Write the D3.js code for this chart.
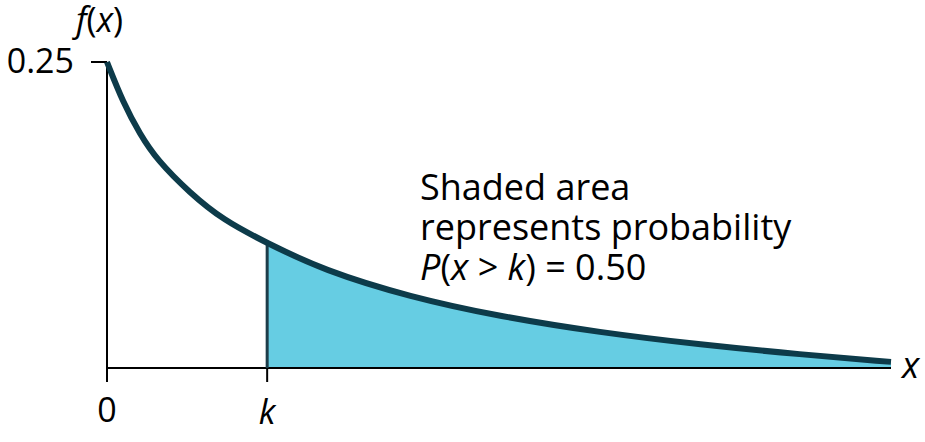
<!DOCTYPE html>
<html><head><meta charset="utf-8">
<script src="https://cdn.jsdelivr.net/npm/d3@7"></script>
<style>body{margin:0;background:#fff}text{font-family:"Open Sans",sans-serif;fill:#000}</style>
</head><body>
<script>
// values
var xs = [0, 0.286, 0.589, 0.893, 1.48, 2.07, 2.86, 3.86, 5.41, 7.02, 8.8, 10.6, 12.4, 14];
var fx = [0.25, 0.217, 0.191, 0.170, 0.143, 0.121, 0.102, 0.080, 0.058, 0.042, 0.029, 0.019, 0.011, 0.005];
var k = 2.86;
var noteLines = ["Shaded area", "represents probability"];

var data = xs.map(function(d, i){ return {x: d, y: fx[i]}; });

var svg = d3.select("body").append("svg").attr("width", 925).attr("height", 442);
var x = d3.scaleLinear().domain([0, 14]).range([107, 891]);
var y = d3.scaleLinear().domain([0, 0.25]).range([368, 62]);

var line = d3.line().x(function(d){ return x(d.x); }).y(function(d){ return y(d.y); }).curve(d3.curveBasis);
var area = d3.area().x(function(d){ return x(d.x); }).y0(y(0)).y1(function(d){ return y(d.y); }).curve(d3.curveBasis);

var tail = data.filter(function(d){ return d.x >= k; });
svg.append("path").datum(tail).attr("d", area).attr("fill", "#66cde3");

// axes
svg.append("line").attr("x1", x(0)).attr("x2", x(14)).attr("y1", y(0)).attr("y2", y(0)).attr("stroke", "#000").attr("stroke-width", 2);
svg.append("line").attr("x1", x(0)).attr("x2", x(0)).attr("y1", y(0.25)).attr("y2", y(0) + 14).attr("stroke", "#000").attr("stroke-width", 2);
svg.append("line").attr("x1", x(0) - 16).attr("x2", x(0)).attr("y1", y(0.25)).attr("y2", y(0.25)).attr("stroke", "#000").attr("stroke-width", 2);
svg.append("line").attr("x1", x(k)).attr("x2", x(k)).attr("y1", y(0)).attr("y2", y(0) + 14).attr("stroke", "#000").attr("stroke-width", 2);
svg.append("line").attr("x1", x(k)).attr("x2", x(k)).attr("y1", y(0)).attr("y2", y(0.102)).attr("stroke", "#1d3d4a").attr("stroke-width", 3);

svg.append("path").datum(data).attr("d", line).attr("fill", "none").attr("stroke", "#0d3b4a").attr("stroke-width", 6);

svg.append("text").attr("x", 74).attr("y", 73).attr("text-anchor", "end").attr("font-size", 34).text("0.25");
svg.append("text").attr("x", x(0)).attr("y", 422).attr("text-anchor", "middle").attr("font-size", 34).text("0");
svg.append("text").attr("x", x(k)).attr("y", 424).attr("text-anchor", "middle").attr("font-size", 34).attr("font-style", "italic").text("k");
svg.append("text").attr("x", 902).attr("y", 378).attr("font-size", 36).attr("font-style", "italic").text("x");
var fl = svg.append("text").attr("x", 76).attr("y", 32).attr("font-size", 34);
fl.append("tspan").attr("font-style", "italic").text("f");
fl.append("tspan").text("(");
fl.append("tspan").attr("font-style", "italic").text("x");
fl.append("tspan").text(")");

noteLines.forEach(function(s, i){
  svg.append("text").attr("x", 420).attr("y", 200 + i * 40).attr("font-size", 36).text(s);
});
var p = svg.append("text").attr("x", 420).attr("y", 280).attr("font-size", 36);
p.append("tspan").attr("font-style", "italic").text("P");
p.append("tspan").text("(");
p.append("tspan").attr("font-style", "italic").text("x");
p.append("tspan").text(" > ");
p.append("tspan").attr("font-style", "italic").text("k");
p.append("tspan").text(") = 0.50");
</script>
</body></html>
